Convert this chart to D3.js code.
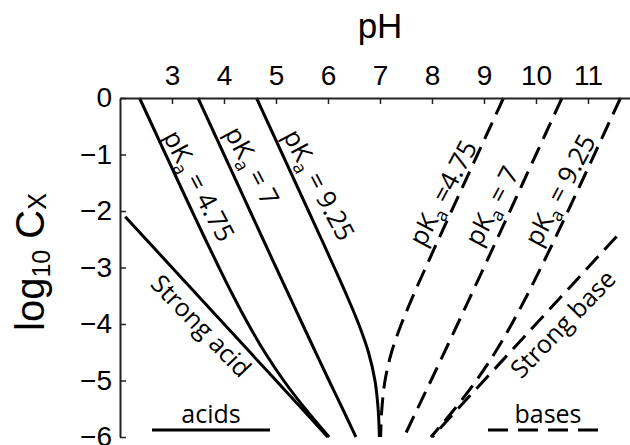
<!DOCTYPE html>
<html>
<head>
<meta charset="utf-8">
<script src="https://cdn.jsdelivr.net/npm/d3@7"></script>
<style>
  body { margin: 0; background: #fff; }
  text { fill: #000; }
</style>
</head>
<body>
<svg id="chart" width="630" height="445"></svg>
<script>
// log10 of concentration, shared by the weak acid / weak base curves
var logC = [0, -0.5, -1, -1.5, -2, -2.5, -3, -3.5, -4, -4.5, -5, -5.5, -6];

// pH for each curve (same order as logC)
var acid475 = [2.375, 2.627, 2.878, 3.13, 3.384, 3.641, 3.904, 4.176, 4.466, 4.784, 5.147, 5.562, 6.02];
var acid7   = [3.5, 3.75, 4.0, 4.25, 4.5, 4.75, 5.002, 5.254, 5.507, 5.762, 6.019, 6.28, 6.537];
var acid925 = [4.625, 4.875, 5.125, 5.375, 5.625, 5.874, 6.121, 6.363, 6.589, 6.778, 6.903, 6.964, 6.988];
var base475 = [9.375, 9.125, 8.875, 8.625, 8.375, 8.126, 7.879, 7.637, 7.411, 7.222, 7.097, 7.036, 7.012];
var base7   = [10.5, 10.25, 10.0, 9.75, 9.5, 9.25, 8.998, 8.746, 8.493, 8.238, 7.981, 7.72, 7.463];
var base925 = [11.625, 11.373, 11.122, 10.87, 10.616, 10.359, 10.096, 9.824, 9.534, 9.216, 8.853, 8.438, 7.98];

// strong acid / strong base
var strongLogC = [-2.1, -3, -4, -5, -5.5, -6];
var strongAcidPH = [2.1, 3, 4, 5, 5.5, 5.996];
var strongBaseLogC = [-2.45, -3, -4, -5, -5.5, -6];
var strongBasePH = [11.55, 11, 10, 9, 8.5, 8.004];

var pHTicks = [3, 4, 5, 6, 7, 8, 9, 10, 11];
var logTicks = [0, -1, -2, -3, -4, -5, -6];

var svg = d3.select("#chart");

var x = d3.scaleLinear().domain([2, 12]).range([120, 640]);
var y = d3.scaleLinear().domain([0, -6]).range([98, 437]);

var axisFont = "'Liberation Sans', Arial, Helvetica, sans-serif";
var labelFont = "'Open Sans', 'Noto Sans', sans-serif";

svg.append("clipPath").attr("id", "plotclip")
  .append("rect").attr("x", 120).attr("y", 96).attr("width", 520).attr("height", 349);

function pts(xs, ys) {
  return xs.map(function(v, i) { return [v, ys[i]]; });
}

var line = d3.line()
  .x(function(d) { return x(d[0]); })
  .y(function(d) { return y(d[1]); })
  .curve(d3.curveMonotoneY);

var curves = [
  { d: pts(acid475, logC), dash: false },
  { d: pts(acid7, logC), dash: false },
  { d: pts(acid925, logC), dash: false },
  { d: pts(strongAcidPH, strongLogC), dash: false },
  { d: pts(base475, logC), dash: true },
  { d: pts(base7, logC), dash: true },
  { d: pts(base925, logC), dash: true },
  { d: pts(strongBasePH, strongBaseLogC), dash: true }
];

var plot = svg.append("g").attr("clip-path", "url(#plotclip)");
plot.selectAll("path.curve")
  .data(curves)
  .enter()
  .append("path")
  .attr("class", "curve")
  .attr("d", function(c) { return line(c.d); })
  .attr("fill", "none")
  .attr("stroke", "#000")
  .attr("stroke-width", 3)
  .attr("stroke-dasharray", function(c) { return c.dash ? "18,9" : null; });

// axes
var xAxisG = svg.append("g").attr("transform", "translate(0," + y(0) + ")")
  .call(d3.axisTop(x).tickValues(pHTicks).tickSizeInner(-6).tickSizeOuter(0).tickPadding(13));
var yAxisG = svg.append("g").attr("transform", "translate(" + x(2) + ",0)")
  .call(d3.axisLeft(y).tickValues(logTicks).tickSizeInner(-6).tickSizeOuter(0).tickPadding(8).tickFormat(d3.format("d")));

[xAxisG, yAxisG].forEach(function(a) {
  a.select(".domain").attr("stroke", "#222").attr("stroke-width", 2);
  a.selectAll(".tick line").attr("stroke", "#222").attr("stroke-width", 1.5);
  a.selectAll(".tick text").attr("font-family", axisFont).attr("font-size", 28).attr("fill", "#000");
});

// axis titles
svg.append("text")
  .attr("x", x(7)).attr("y", 38)
  .attr("text-anchor", "middle")
  .attr("font-family", axisFont).attr("font-size", 35)
  .text("pH");

var yl = svg.append("text")
  .attr("transform", "translate(44,262) rotate(-90)")
  .attr("text-anchor", "middle")
  .attr("font-family", axisFont).attr("font-size", 40);
yl.append("tspan").text("log");
yl.append("tspan").attr("font-size", 25).attr("dy", 6).text("10");
yl.append("tspan").attr("dy", -6).text(" C");
yl.append("tspan").attr("font-size", 25).attr("dy", 2).text("X");

// curve annotations
function pkaLabel(val, eq, cx, cy, ang) {
  var t = svg.append("text")
    .attr("transform", "translate(" + cx + "," + cy + ") rotate(" + ang + ")")
    .attr("text-anchor", "middle")
    .attr("dy", "0.35em")
    .attr("font-family", labelFont).attr("font-size", 26);
  t.append("tspan").text("pK");
  t.append("tspan").attr("font-size", 18).attr("dy", 6).text("a");
  t.append("tspan").attr("dy", -6).text(eq + val);
}

pkaLabel("4.75", " = ", 199, 186, 62);
pkaLabel("7", " = ", 252, 166, 62);
pkaLabel("9.25", " = ", 319, 185, 62);
pkaLabel("4.75", " =", 443, 193, -62);
pkaLabel("7", " = ", 492, 206, -62);
pkaLabel("9.25", " = ", 560, 190, -62);

svg.append("text")
  .attr("transform", "translate(201,326) rotate(46)")
  .attr("text-anchor", "middle").attr("dy", "0.35em")
  .attr("font-family", labelFont).attr("font-size", 25)
  .text("Strong acid");

svg.append("text")
  .attr("transform", "translate(563,324) rotate(-46)")
  .attr("text-anchor", "middle").attr("dy", "0.35em")
  .attr("font-family", labelFont).attr("font-size", 25)
  .text("Strong base");

// legend
svg.append("line").attr("x1", 152).attr("x2", 270).attr("y1", 430).attr("y2", 430)
  .attr("stroke", "#000").attr("stroke-width", 3);
svg.append("text").attr("x", 211).attr("y", 423).attr("text-anchor", "middle")
  .attr("font-family", labelFont).attr("font-size", 25).text("acids");
svg.append("line").attr("x1", 488).attr("x2", 600).attr("y1", 430).attr("y2", 430)
  .attr("stroke", "#000").attr("stroke-width", 3).attr("stroke-dasharray", "20,10");
svg.append("text").attr("x", 548).attr("y", 423).attr("text-anchor", "middle")
  .attr("font-family", labelFont).attr("font-size", 25).text("bases");
</script>
</body>
</html>
